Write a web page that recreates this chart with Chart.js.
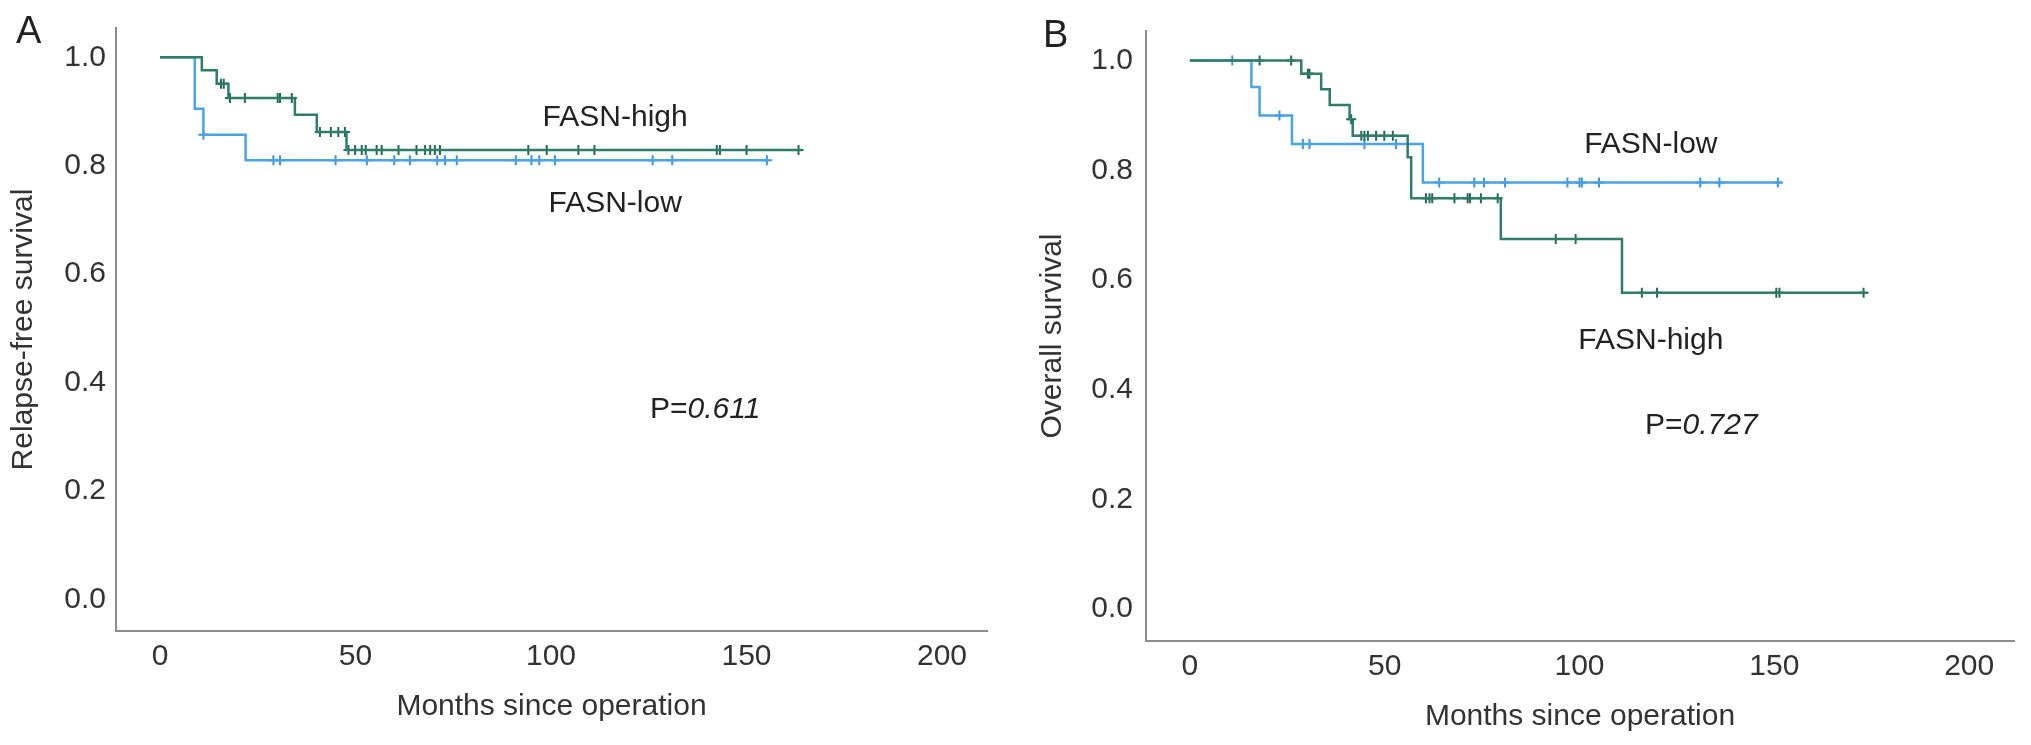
<!DOCTYPE html>
<html>
<head>
<meta charset="utf-8">
<title>FASN Kaplan-Meier</title>
<script src="https://cdn.jsdelivr.net/npm/chart.js@4.4.0/dist/chart.umd.min.js"></script>
<style>
  body { margin: 0; background: #fff; }
  .panel { position: absolute; top: 0; }
</style>
</head>
<body>
<div class="panel" style="left:0"><canvas id="chartRFS" width="1015" height="745"></canvas></div>
<div class="panel" style="left:1015px"><canvas id="chartOS" width="1016" height="745"></canvas></div>
<script>
// Eixos
const xTicks = [0, 50, 100, 150, 200];
const yTicks = [0, 0.2, 0.4, 0.6, 0.8, 1.0];

// A - Relapse-free survival, FASN-high
const rfsHighTimes = [10.7, 14.5, 17.5, 34.5, 40.1, 47.7];
const rfsHighSurv = [0.976, 0.951, 0.925, 0.894, 0.862, 0.829];
const rfsHighCensored = [15.6, 16.3, 17.9, 21.7, 30.1, 30.7, 33.7, 40.9, 43.7, 45.6, 47.3, 48.2, 49.9, 51.6, 52.6,
    55.4, 56.7, 61, 65.6, 67.8, 69.1, 70.3, 71.6, 94.2, 98.9, 107, 111.1, 142.4, 143.2, 150, 163.3];
const rfsHighEnd = 164;

// A - Relapse-free survival, FASN-low
const rfsLowTimes = [8.9, 11.1, 21.9];
const rfsLowSurv = [0.905, 0.857, 0.81];
const rfsLowCensored = [11.1, 29, 30.7, 44.9, 52.9, 59.9, 63.9, 70.9, 72.9, 75.9, 91, 95, 97, 101, 126, 131, 155.2];
const rfsLowEnd = 155.5;

// B - Overall survival, FASN-high
const osHighTimes = [28.6, 33.7, 35.9, 41.0, 41.8, 55.9, 56.8, 79.8, 110.9];
const osHighSurv = [0.976, 0.948, 0.919, 0.893, 0.863, 0.824, 0.749, 0.675, 0.577];
const osHighCensored = [17.9, 26, 30.3, 30.7, 41.4, 44, 44.8, 45.7, 47.8, 49.9, 52.1, 60.6, 61.5, 62.2, 67.9,
    71.3, 71.9, 74.7, 79, 93.9, 99, 116, 119.9, 150.5, 151.3, 172.9];
const osHighEnd = 173.6;

// B - Overall survival, FASN-low
const osLowTimes = [15.8, 17.9, 26.2, 59.8];
const osLowSurv = [0.952, 0.9, 0.848, 0.778];
const osLowCensored = [10.9, 23, 29, 30.7, 44.8, 52.9, 64, 73, 75.5, 80.9, 96.9, 100, 100.6, 105, 131, 135.9, 150.9];
const osLowEnd = 152;

const pValues = ['0.611', '0.727'];

const greenLine = '#2f7d69';
const greenMark = '#23695a';
const blueLine = '#4ba3e3';
const blueMark = '#3b95da';

Chart.defaults.font.family = '"Liberation Sans", Arial, sans-serif';
Chart.defaults.color = '#333';

// curva em degraus: começa em 1.0 e cai em cada evento
function stepPoints(times, surv, end) {
    const pts = [{ x: 0, y: 1 }];
    times.forEach((t, i) => pts.push({ x: t, y: surv[i] }));
    pts.push({ x: end, y: surv[surv.length - 1] });
    return pts;
}

// marcas de censura sobre a curva
function censorPoints(times, surv, censored) {
    return censored.map(c => {
        let y = 1;
        times.forEach((t, i) => { if (t <= c) y = surv[i]; });
        return { x: c, y: y };
    });
}

// textos dentro do gráfico (em coordenadas dos dados)
const kmText = {
    id: 'kmText',
    afterDraw(chart, args, opts) {
        const { ctx, scales } = chart;
        ctx.save();
        ctx.fillStyle = '#222';
        ctx.textBaseline = 'middle';
        opts.items.forEach(item => {
            let px = scales.x.getPixelForValue(item.x);
            const py = scales.y.getPixelForValue(item.y);
            if (item.parts) {
                ctx.textAlign = 'left';
                item.parts.forEach(([txt, style]) => {
                    ctx.font = style + ' 30px "Liberation Sans", Arial, sans-serif';
                    ctx.fillText(txt, px, py);
                    px += ctx.measureText(txt).width;
                });
            } else {
                ctx.textAlign = 'center';
                ctx.font = '30px "Liberation Sans", Arial, sans-serif';
                ctx.fillText(item.text, px, py);
            }
        });
        // letra do painel
        ctx.font = '38px "Liberation Sans", Arial, sans-serif';
        ctx.textAlign = 'left';
        ctx.textBaseline = 'alphabetic';
        ctx.fillText(opts.letter.text, opts.letter.px, opts.letter.py);
        ctx.restore();
    }
};

function makeChart(id, cfg) {
    const ctx = document.getElementById(id).getContext('2d');
    return new Chart(ctx, {
        type: 'line',
        data: {
            datasets: [
                {
                    label: 'FASN-high',
                    data: stepPoints(cfg.high.times, cfg.high.surv, cfg.high.end),
                    borderColor: greenLine,
                    borderWidth: 2.5,
                    stepped: 'before',
                    pointRadius: 0,
                    fill: false,
                },
                {
                    label: 'FASN-high censored',
                    type: 'scatter',
                    data: censorPoints(cfg.high.times, cfg.high.surv, cfg.high.censored),
                    pointStyle: 'cross',
                    pointRadius: 5,
                    borderColor: greenMark,
                    borderWidth: 2,
                    showLine: false,
                },
                {
                    label: 'FASN-low',
                    data: stepPoints(cfg.low.times, cfg.low.surv, cfg.low.end),
                    borderColor: blueLine,
                    borderWidth: 2.5,
                    stepped: 'before',
                    pointRadius: 0,
                    fill: false,
                },
                {
                    label: 'FASN-low censored',
                    type: 'scatter',
                    data: censorPoints(cfg.low.times, cfg.low.surv, cfg.low.censored),
                    pointStyle: 'cross',
                    pointRadius: 5,
                    borderColor: blueMark,
                    borderWidth: 2,
                    showLine: false,
                },
            ],
        },
        options: {
            responsive: false,
            animation: false,
            devicePixelRatio: 1,
            layout: { padding: cfg.padding },
            plugins: {
                legend: { display: false },
                tooltip: { enabled: false },
                kmText: { items: cfg.texts, letter: cfg.letter },
            },
            scales: {
                x: {
                    type: 'linear',
                    min: -11.25,
                    max: 211.5,
                    afterBuildTicks: s => { s.ticks = xTicks.map(v => ({ value: v })); },
                    afterFit: s => { s.height = cfg.xHeight; },
                    grid: { display: false, drawTicks: false },
                    border: { display: true, color: '#8c8c8c', width: 2 },
                    ticks: { font: { size: 30 }, color: '#333', padding: 8, maxRotation: 0 },
                    title: {
                        display: true,
                        text: 'Months since operation',
                        font: { size: 30 },
                        color: '#333',
                        padding: { top: 0, bottom: cfg.xTitlePad },
                    },
                },
                y: {
                    type: 'linear',
                    min: -0.058,
                    max: 1.054,
                    afterBuildTicks: s => { s.ticks = yTicks.map(v => ({ value: v })); },
                    afterFit: s => { s.width = cfg.yWidth; },
                    grid: { display: false, drawTicks: false },
                    border: { display: true, color: '#8c8c8c', width: 2 },
                    ticks: {
                        font: { size: 30 },
                        color: '#333',
                        padding: cfg.yTickPad,
                        callback: v => v.toFixed(1),
                    },
                    title: {
                        display: true,
                        text: cfg.yTitle,
                        font: { size: 30 },
                        color: '#333',
                        padding: { top: cfg.yTitlePad, bottom: 0 },
                    },
                },
            },
        },
        plugins: [kmText],
    });
}

// Gráfico A - Relapse-free survival
const chartRFS = makeChart('chartRFS', {
    high: { times: rfsHighTimes, surv: rfsHighSurv, censored: rfsHighCensored, end: rfsHighEnd },
    low: { times: rfsLowTimes, surv: rfsLowSurv, censored: rfsLowCensored, end: rfsLowEnd },
    yTitle: 'Relapse-free survival',
    padding: { left: 0, top: 13, right: 28, bottom: 0 },
    yWidth: 116,
    xHeight: 114,
    yTickPad: 10,
    yTitlePad: 6,
    xTitlePad: 20,
    texts: [
        { text: 'FASN-high', x: 116.4, y: 0.888 },
        { text: 'FASN-low', x: 116.4, y: 0.73 },
        { parts: [['P=', 'normal'], [pValues[0], 'italic']], x: 125.3, y: 0.35 },
    ],
    letter: { text: 'A', px: 16, py: 43 },
});

// Gráfico B - Overall survival
const chartOS = makeChart('chartOS', {
    high: { times: osHighTimes, surv: osHighSurv, censored: osHighCensored, end: osHighEnd },
    low: { times: osLowTimes, surv: osLowSurv, censored: osLowCensored, end: osLowEnd },
    yTitle: 'Overall survival',
    padding: { left: 0, top: 20, right: 17, bottom: 0 },
    yWidth: 131,
    xHeight: 104,
    yTickPad: 13,
    yTitlePad: 20,
    xTitlePad: 10,
    texts: [
        { text: 'FASN-low', x: 118.3, y: 0.846 },
        { text: 'FASN-high', x: 118.3, y: 0.49 },
        { parts: [['P=', 'normal'], [pValues[1], 'italic']], x: 116.8, y: 0.334 },
    ],
    letter: { text: 'B', px: 28, py: 47 },
});
</script>
</body>
</html>
